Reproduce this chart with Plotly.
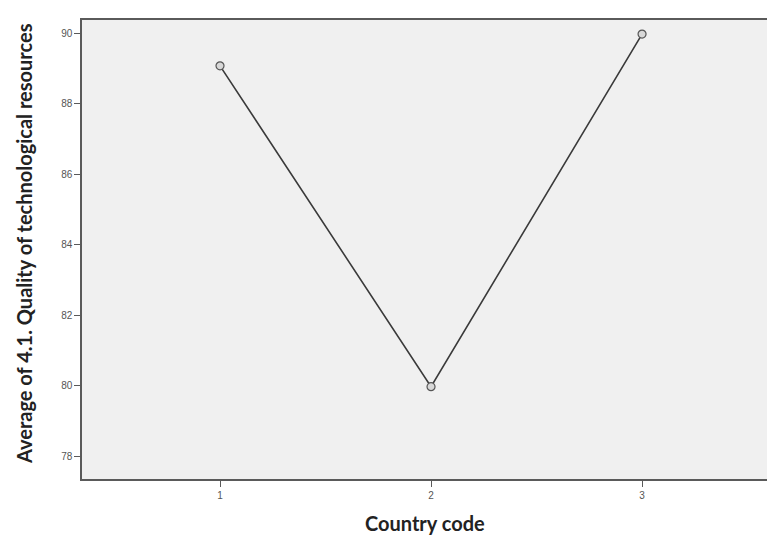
import plotly.graph_objects as go

country_codes = [1, 2, 3]
avg_quality = [89.07, 79.97, 89.97]
y_tick_vals = [78, 80, 82, 84, 86, 88, 90]
y_tick_text = ["78", "80", "82", "84", "86", "88", "90"]
x_tick_vals = [1, 2, 3]
x_tick_text = ["1", "2", "3"]

fig = go.Figure()
fig.add_trace(go.Scatter(
    x=country_codes, y=avg_quality, mode="lines+markers",
    line=dict(color="#3a3a3a", width=1.6),
    marker=dict(symbol="circle", size=8, color="#d8d8d8",
                line=dict(color="#555555", width=1.2)),
    showlegend=False, hoverinfo="x+y",
))

# page has an 8px body margin; size the figure to compensate
W, H = 767, 528
ml, mt, mb, mr = 74, 12, 57, 0
pw = W - ml - mr
ph = H - mt - mb
bottom = H - mb

fig.update_layout(
    width=W, height=H,
    margin=dict(l=ml, r=mr, t=mt, b=mb),
    paper_bgcolor="white", plot_bgcolor="#f0f0f0",
    font=dict(family="Liberation Sans, Arial, sans-serif", size=10, color="#555555"),
)
fig.update_xaxes(
    range=[0.346, 3.63], tickvals=x_tick_vals, ticktext=x_tick_text,
    showgrid=False, zeroline=False,
    showline=True, linecolor="#5a5a5a", linewidth=1.5, mirror=True,
    ticks="outside", ticklen=6, tickcolor="#5a5a5a", tickwidth=1,
)
fig.update_yaxes(
    range=[77.35, 90.37], tickvals=y_tick_vals, ticktext=y_tick_text,
    showgrid=False, zeroline=False,
    showline=True, linecolor="#5a5a5a", linewidth=1.5,
    ticks="outside", ticklen=6, tickcolor="#5a5a5a", tickwidth=1,
)

fig.add_annotation(
    text="Average of 4.1. Quality of technological resources",
    xref="paper", yref="paper", x=(16 - ml) / pw, y=(bottom - 236) / ph,
    xanchor="center", yanchor="middle", textangle=-90, showarrow=False,
    font=dict(family="Lato, Open Sans, sans-serif", size=20, color="#222222", weight="bold"),
)
fig.add_annotation(
    text="Country code",
    xref="paper", yref="paper", x=(417 - ml) / pw, y=(bottom - 515) / ph,
    xanchor="center", yanchor="middle", showarrow=False,
    font=dict(family="Lato, Open Sans, sans-serif", size=20, color="#222222", weight="bold"),
)

fig.write_html("out.html")
